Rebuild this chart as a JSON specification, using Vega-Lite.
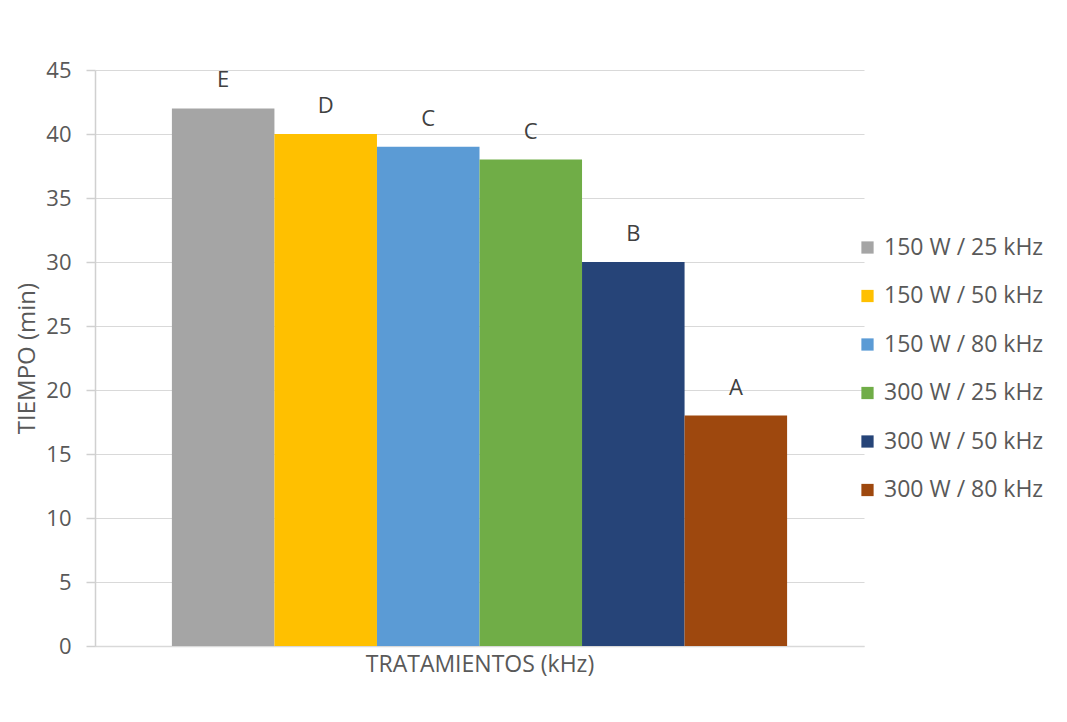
{
  "$schema": "https://vega.github.io/schema/vega-lite/v6.json",
  "width": 769,
  "height": 576,
  "autosize": "none",
  "padding": {"left": 95, "top": 70, "right": 203, "bottom": 76},
  "background": "white",
  "config": {
    "font": "Open Sans",
    "view": {"stroke": null},
    "axis": {"labelColor": "#595959", "titleColor": "#595959", "labelFont": "Open Sans", "titleFont": "Open Sans"}
  },
  "data": {
    "values": [
      {"tratamiento": "150 W / 25 kHz", "tiempo": 42, "letra": "E"},
      {"tratamiento": "150 W / 50 kHz", "tiempo": 40, "letra": "D"},
      {"tratamiento": "150 W / 80 kHz", "tiempo": 39, "letra": "C"},
      {"tratamiento": "300 W / 25 kHz", "tiempo": 38, "letra": "C"},
      {"tratamiento": "300 W / 50 kHz", "tiempo": 30, "letra": "B"},
      {"tratamiento": "300 W / 80 kHz", "tiempo": 18, "letra": "A"}
    ]
  },
  "encoding": {
    "x": {
      "field": "tratamiento",
      "type": "nominal",
      "sort": null,
      "scale": {"paddingInner": 0, "paddingOuter": 0.75},
      "axis": {
        "title": "TRATAMIENTOS (kHz)",
        "labels": false,
        "ticks": false,
        "domainColor": "#D9D9D9",
        "domainWidth": 1.5,
        "titleFontSize": 23,
        "titleFontWeight": "normal",
        "titlePadding": 7
      }
    },
    "y": {
      "field": "tiempo",
      "type": "quantitative",
      "scale": {"domain": [0, 45], "nice": false},
      "axis": {
        "title": "TIEMPO (min)",
        "values": [0, 5, 10, 15, 20, 25, 30, 35, 40, 45],
        "gridColor": "#D9D9D9",
        "gridWidth": 1.2,
        "domainColor": "#D0D0D0",
        "domainWidth": 1.5,
        "tickColor": "#D0D0D0",
        "tickSize": 9,
        "tickWidth": 1.5,
        "labelFontSize": 22,
        "labelPadding": 15,
        "titleFontSize": 24,
        "titleFontWeight": "normal",
        "titlePadding": 6
      }
    }
  },
  "layer": [
    {
      "mark": {"type": "bar"},
      "encoding": {
        "color": {
          "field": "tratamiento",
          "type": "nominal",
          "sort": null,
          "scale": {
            "domain": ["150 W / 25 kHz", "150 W / 50 kHz", "150 W / 80 kHz", "300 W / 25 kHz", "300 W / 50 kHz", "300 W / 80 kHz"],
            "range": ["#A5A5A5", "#FFC000", "#5B9BD5", "#70AD47", "#264478", "#9E480E"]
          },
          "legend": {
            "title": null,
            "orient": "none",
            "legendX": 761,
            "legendY": 166,
            "symbolType": "square",
            "symbolSize": 150,
            "symbolStrokeWidth": 0,
            "labelFontSize": 23,
            "labelColor": "#595959",
            "labelFont": "Open Sans",
            "rowPadding": 24.5,
            "labelOffset": 5
          }
        }
      }
    },
    {
      "mark": {"type": "text", "baseline": "bottom", "dy": -16, "fontSize": 22, "color": "#404040", "font": "Open Sans"},
      "encoding": {"text": {"field": "letra"}}
    }
  ]
}
